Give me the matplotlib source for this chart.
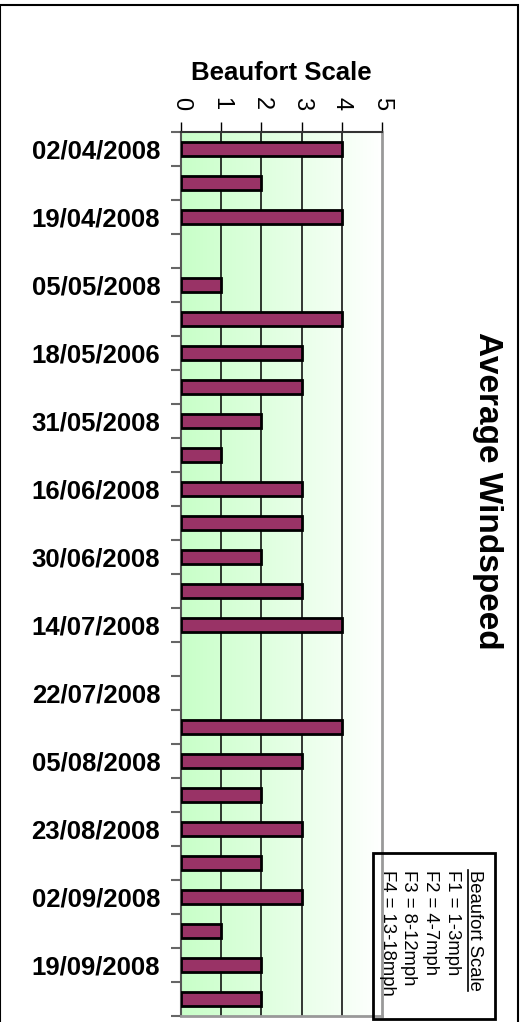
import numpy as np
import matplotlib.pyplot as plt
from matplotlib.colors import LinearSegmentedColormap
from matplotlib.patches import Rectangle
from matplotlib.lines import Line2D

plt.rcParams['font.family'] = ['Liberation Sans', 'DejaVu Sans']

# one row per reading; only every other row carries a date label
dates = [
    '02/04/2008', '', '19/04/2008', '', '05/05/2008', '', '18/05/2006', '',
    '31/05/2008', '', '16/06/2008', '', '30/06/2008', '', '14/07/2008', '',
    '22/07/2008', '', '05/08/2008', '', '23/08/2008', '', '02/09/2008', '',
    '19/09/2008', '',
]
# None = no reading that day
beaufort = [4, 2, 4, None, 1, 4, 3, 3, 2, 1, 3, 3, 2, 3, 4, None,
            None, 4, 3, 2, 3, 2, 3, 1, 2, 2]
scale_ticks = [0, 1, 2, 3, 4, 5]
key_lines = ['F1 = 1-3mph', 'F2 = 4-7mph', 'F3 = 8-12mph', 'F4 = 13-18mph']

W, H = 531, 1022
fig = plt.figure(figsize=(W / 100, H / 100), dpi=100)
ax = fig.add_axes([181 / W, 1 - 1016 / H, (382 - 181) / W, (1016 - 132) / H])

n = len(beaufort)
rows = np.arange(n)
vals = np.array([np.nan if v is None else v for v in beaufort], dtype=float)

# green-to-white plot area fill
grad = LinearSegmentedColormap.from_list('bg', ['#c8ffc8', '#ffffff'])
ax.imshow(np.linspace(0, 1, 256).reshape(1, -1), cmap=grad, aspect='auto',
          extent=(0, 5, n - 0.5, -0.5), zorder=0)

for x in scale_ticks[1:-1]:
    ax.axvline(x, color='black', lw=1.1, zorder=1)

ok = ~np.isnan(vals)
ax.barh(rows[ok], vals[ok], height=0.43, color='#993366', edgecolor='black',
        linewidth=2, zorder=3)

ax.set_xlim(0, 5)
ax.set_ylim(n - 0.5, -0.5)

# x axis on top, labels turned clockwise
ax.xaxis.tick_top()
ax.xaxis.set_label_position('top')
ax.set_xticks(scale_ticks)
ax.set_xticklabels([str(t) for t in scale_ticks], rotation=-90, fontsize=17)
ax.tick_params(axis='x', length=7, width=1, color='black', pad=9)
ax.set_xlabel('Beaufort Scale', fontsize=18.5, fontweight='bold', labelpad=12)

# category ticks between rows, date labels centred on rows
ax.set_yticks(np.arange(n + 1) - 0.5)
ax.set_yticklabels([])
ax.tick_params(axis='y', which='major', length=7, width=1.5, color='#666666')
ax.set_yticks(rows, minor=True)
ax.set_yticklabels(dates, minor=True, fontsize=18.5, fontweight='bold')
ax.tick_params(axis='y', which='minor', length=0, pad=15)

ax.spines['top'].set_color('#333333')
ax.spines['top'].set_linewidth(1.5)
ax.spines['left'].set_color('#555555')
ax.spines['left'].set_linewidth(1.5)
ax.spines['right'].set_color('#999999')
ax.spines['right'].set_linewidth(2)
ax.spines['bottom'].set_color('#999999')
ax.spines['bottom'].set_linewidth(2)

fig.text(488 / W, 1 - 491 / H, 'Average Windspeed', rotation=-90,
         fontsize=24, fontweight='bold', ha='center', va='center')

# key box
fig.patches.append(Rectangle((373 / W, 1 - 1019 / H), (495 - 373) / W,
                             (1019 - 853) / H, transform=fig.transFigure,
                             fill=False, edgecolor='black', lw=2))
head = fig.text(474 / W, 1 - 870 / H, 'Beaufort Scale', rotation=-90,
                fontsize=13.3, ha='center', va='top')
for i, line in enumerate(key_lines):
    fig.text((452 - 21.5 * i) / W, 1 - 870 / H, line, rotation=-90,
             fontsize=13.3, ha='center', va='top')

# underline the key heading just left of its baseline
fig.canvas.draw()
bb = head.get_window_extent().transformed(fig.transFigure.inverted())
ux = bb.x0 + 2.5 / W
fig.lines.append(Line2D([ux, ux], [bb.y0, bb.y1],
                        transform=fig.transFigure, color='black', lw=1.2))

# outer chart border
fig.patches.append(Rectangle((0, -0.01), 518 / W, 1 - 5 / H + 0.01,
                             transform=fig.transFigure, fill=False,
                             edgecolor='black', lw=1.5))

fig.savefig('out.png', dpi=100)
